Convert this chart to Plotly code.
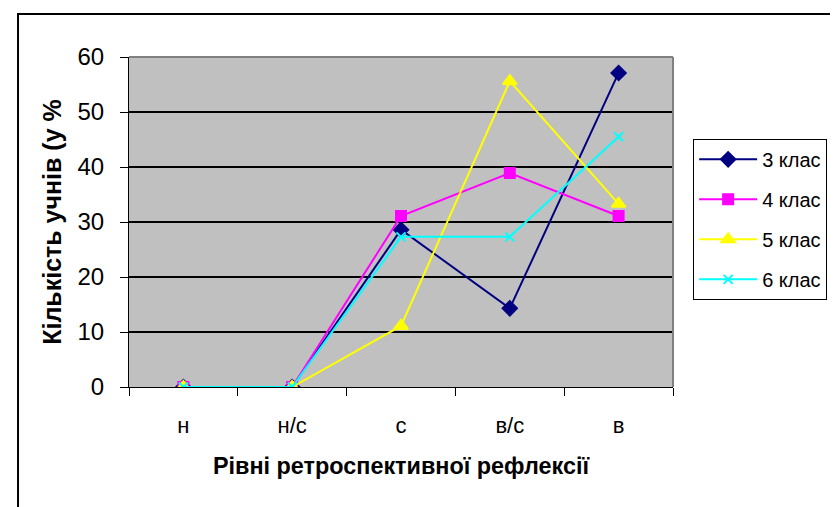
import plotly.graph_objects as go

levels = ["н", "н/с", "с", "в/с", "в"]
klas3 = [0, 0, 28.6, 14.3, 57.1]
klas4 = [0, 0, 31.1, 38.9, 31.1]
klas5 = [0, 0, 11.1, 55.6, 33.3]
klas6 = [0, 0, 27.3, 27.3, 45.5]

series = [
    ("3 клас", klas3, "#000080", "diamond", 11),
    ("4 клас", klas4, "#FF00FF", "square", 10),
    ("5 клас", klas5, "#FFFF00", "triangle-up", 12),
    ("6 клас", klas6, "#00FFFF", "x-thin", 9),
]

fig = go.Figure()
for name, vals, col, sym, sz in series:
    fig.add_trace(go.Scatter(
        x=levels, y=vals, name=name, mode="lines+markers",
        legendgroup=name,
        line=dict(color=col, width=2),
        marker=dict(symbol=sym, size=sz, color=col, line=dict(color=col, width=2)),
    ))

fam = "Liberation Sans, Arial, sans-serif"

# page body has an 8px offset, margins compensate for it
fig.update_layout(
    width=838, height=507,
    margin=dict(l=121, r=173, t=49, b=128),
    paper_bgcolor="white",
    plot_bgcolor="#C0C0C0",
    font=dict(family=fam, size=20, color="black"),
    showlegend=True,
    legend=dict(
        x=1.037, y=0.752, xanchor="left", yanchor="top",
        bgcolor="white", bordercolor="black", borderwidth=1,
        font=dict(family=fam, size=20, color="black"),
        tracegroupgap=11, itemwidth=58,
    ),
    xaxis=dict(
        type="category", range=[-0.5, 4.5], tickson="boundaries",
        ticks="outside", ticklen=8, tickcolor="black", tickwidth=1,
        showline=True, linecolor="black", linewidth=1,
        showgrid=False, zeroline=False,
        tickfont=dict(family=fam, size=22, color="black"),
        ticklabelstandoff=19,
        title=dict(text="<b>Рівні ретроспективної рефлексії</b>",
                   font=dict(family=fam, size=23.4, color="black"), standoff=20),
    ),
    yaxis=dict(
        range=[0, 60], dtick=10,
        ticks="outside", ticklen=8, tickcolor="black",
        showline=True, linecolor="black", linewidth=1,
        showgrid=True, gridcolor="black", gridwidth=2,
        zeroline=False,
        tickfont=dict(family=fam, size=24, color="black"),
        ticklabelstandoff=11,
        title=dict(text="<b>Кількість учнів (у %</b>",
                   font=dict(family=fam, size=25, color="black"), standoff=8),
    ),
    shapes=[
        dict(type="rect", xref="paper", yref="paper",
             x0=-0.204, x1=2.0, y0=-1.0, y1=1.13,
             line=dict(color="black", width=2), layer="below"),
        dict(type="line", xref="paper", yref="paper",
             x0=0, x1=1, y0=1, y1=1, line=dict(color="#808080", width=2)),
        dict(type="line", xref="paper", yref="paper",
             x0=1, x1=1, y0=0, y1=1, line=dict(color="#808080", width=2)),
    ],
)

fig.write_html("out.html")
